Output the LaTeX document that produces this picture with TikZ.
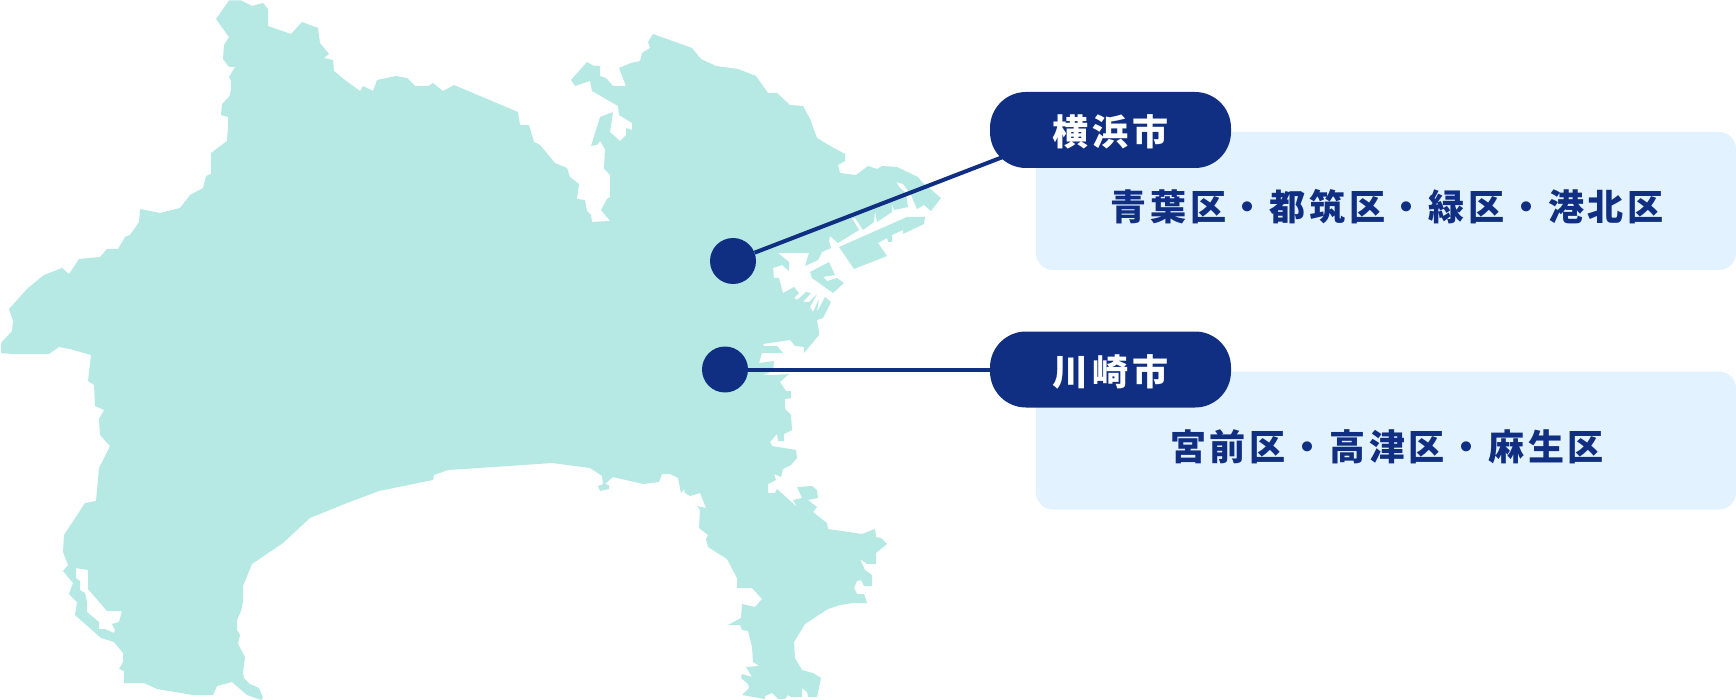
\documentclass[tikz,border=0pt]{standalone}
\usepackage{fontspec}
\newfontfamily\cjk[LetterSpace=10.5]{Noto Sans CJK JP}
\definecolor{mint}{HTML}{B6E9E3}
\definecolor{navy}{HTML}{102F82}
\definecolor{panelblue}{HTML}{E3F2FF}
\tikzset{
  panelbox/.style={fill=panelblue,rounded corners=17pt,minimum width=700pt,minimum height=138pt,inner sep=0pt,anchor=center},
  pillbox/.style={fill=navy,text=white,rounded corners=36pt,minimum width=241pt,minimum height=76pt,inner sep=0pt},
  marker/.style={circle,fill=navy,minimum size=46pt,inner sep=0pt},
  link/.style={draw=navy,line width=4pt},
  wardtext/.style={text=navy,inner sep=0pt},
  citytext/.style={text=white,inner sep=0pt}
}
\begin{document}
\begin{tikzpicture}[x=1pt,y=-1pt,font=\cjk\bfseries\fontsize{36}{42}\selectfont]
\useasboundingbox (0,0) rectangle (1736,700);
% map
\fill[mint,even odd rule]
 (229,0.5)--(241,0.5)--(252,6)--(263,3)--(268,9)--(268,26)--(291,34)--(302,22)--(318,28)--(320,43)--(329,54)--(324,58)--(333,60)--(334,71)--(345,80)--(360,91)--(363,86)--(373,91)--(377,80)--(396,76)--(407,78)--(415,86)--(428,86)--(433,83)--(443,91)--(454,85)--(518,112)
 --(520,125)--(529,125)--(534,142)--(540,145)--(555,163)--(567,168)--(570,177)--(579,184)--(577,199)--(585,200)--(587,211)--(591,215)--(592,222)--(610,221)--(601,210)--(607,199)--(610,197)--(610,175)--(604,169)--(605,149)--(600,141)--(597,145)--(591,146)--(600,117)--(613,112)--(610,132)--(620,141)--(626,135)--(626,128)--(632,130)--(632,123)--(619,115)--(618,106)--(592,91)--(590,81)--(575,86)--(571,80)--(587,62)--(594,66)--(600,66)--(600,76)--(606,78)--(613,86)--(626,86)--(619,68)--(631,63)--(640,61)--(642,53)--(650,48)--(648,42)--(653,34)
 --(692,48)--(701,59)--(716,66)--(738,69)--(756,76)--(768,93)--(777,93)--(790,105)--(803,106)--(810,119)--(817,138)--(832,147)--(845,154)--(845,161)--(838,165)--(840,173)--(856,175)--(868,166)--(877,169)--(882,166)--(897,167)--(918,177)--(922,182)--(941,198)--(931,211)--(924,205)--(917,209)--(911,195)--(903,184)--(896,182)--(900,188)--(906,193)--(908,207)--(894,210)--(892,203)--(892,212)--(877,222)--(875,211)--(874,222)--(863,230)--(855,218)--(852,218)--(859,230)--(838,243)--(830,236)--(829,241)--(831,248)--(822,252)--(818,260)--(805,266)--(809,253)--(778,253)--(789,262)--(789,271)--(782,265)--(773,268)--(774,278)--(779,278)--(783,293)--(794,287)--(799,293)--(794,298)--(797,300)--(806,292)--(811,293)--(803,302)--(809,302)--(817,294)--(810,307)--(813,312)--(819,299)--(817,312)--(825,297)--(831,302)--(823,318)--(817,320)--(819,332)
 --(819,335)--(804,353)--(804,347)--(795,346)--(790,340)--(763,344)--(764,346)--(777,346)--(783,353)--(762,353)--(759,363)--(774,361)--(773,371)--(763,375)--(775,375)--(789,374)--(780,382)--(786,391)--(791,391)--(791,398)--(785,399)--(785,409)--(791,415)--(792,430)--(784,434)--(784,441)--(778,441)--(777,434)--(770,442)--(772,446)--(796,450)--(797,458)--(791,465)--(783,469)--(781,477)--(774,474)--(776,480)--(768,484)--(768,493)--(775,493)--(777,489)--(797,507)--(793,500)--(802,498)--(797,487)--(812,486)--(817,490)--(818,498)--(808,500)--(817,507)--(813,512)--(823,520)
 --(827,523)--(828,529)--(862,534)--(875,529)--(876,537)--(881,538)--(887,544)--(876,553)--(876,564)--(867,564)--(860,559)--(865,570)--(872,575)--(872,586)--(864,586)--(861,580)--(857,581)--(854,588)--(857,594)--(864,594)--(867,603)--(853,603)--(840,605)--(828,609)--(805,624)--(794,642)--(795,658)--(802,670)--(813,673)--(821,678)--(817,697)--(808,697)--(807,692)--(802,688)--(802,697)--(791,697)--(788,695)--(785,699)--(778,699)--(772,693)--(765,696)--(765,699)--(742,695)--(749,688)--(748,684)--(741,678)--(742,674)--(752,677)--(746,667)--(759,666)--(753,662)--(752,647)--(748,631)--(742,630)--(740,625)--(728,625)--(741,618)--(742,604)--(755,607)--(762,599)--(752,588)--(737,588)--(737,578)--(727,559)--(708,547)--(706,539)--(708,535)--(699,528)--(700,510)--(697,506)--(706,508)
 --(700,493)--(690,496)--(685,493)--(684,489)--(681,493)--(678,478)--(670,474)--(662,474)--(659,482)--(643,484)--(613,477)--(605,484)--(609,485)--(609,489)--(600,491)--(598,486)--(603,484)--(602,476)--(590,468)--(552,463)--(509,466)--(448,470)--(434,475)--(433,480)--(379,491)--(347,503)--(310,518)--(283,543)--(252,564)--(243,586)--(243,602)--(241,611)--(237,620)--(237,630)--(240,635)--(238,644)--(245,657)--(243,673)--(244,678)--(250,684)--(259,688)--(263,698)--(261,700)--(247,695)--(232,682)--(217,686)--(213,695)--(193,695)--(175,692)--(157,689)--(144,683)--(124,683)--(124,671)--(119,669)--(123,662)--(123,653)--(114,642)--(101,638)--(75,615)--(77,602)--(69,594)--(73,583)--(63,571)--(68,565)--(63,552)--(64,535)--(85,503)--(96,501)--(99,468)--(110,446)--(100,435)--(99,419)--(104,410)--(95,406)--(94,385)--(88,381)--(91,355)--(70,349)--(59,347)--(49,354)--(13,354)--(1,353)--(1,343)--(12,331)--(13,321)--(9,309)--(28,288)--(44,275)--(62,268)--(69,274)--(79,259)--(100,257)--(107,249)--(118,249)--(125,237)--(130,235)--(139,222)--(140,209)--(160,213)--(180,208)--(190,195)--(203,188)--(206,176)--(211,174)--(211,153)--(227,141)--(228,127)--(228,117)--(221,115)--(222,104)--(229,97)--(231,90)--(231,81)--(229,77)--(235,67)--(229,67)--(223,59)--(224,45)--(229,37)--(216,19)--cycle
 (76,568)--(88,570)--(88,589)--(107,611)--(122,611)--(119,622)--(112,624)--(115,630)--(114,633)--(105,629)--(99,629)--(99,622)--(87,612)--(87,602)--(85,593)--(80,590)--(80,581)--(76,578)--cycle
 (907,217)--(925,217)--(924,224)--(903,234)--(903,230)--(892,235)--(892,242)--(888,242)--(887,238)--(878,243)--(887,256)--(854,269)--(839,247)--cycle
 (810,272)--(829,262)--(835,275)--(823,277)--(827,281)--(837,278)--(844,283)--(833,293)--(812,278)--cycle;
% panels
\node[panelbox] (panelA) at (1386,201) {};
\node[panelbox] (panelB) at (1386,440.5) {};
% markers and connectors
\node[marker] (dotA) at (733,261) {};
\node[marker] (dotB) at (725,369.5) {};
\coordinate (endA) at (1014,152.7);
\draw[link] (dotA) -- (endA);
\node[pillbox] (pillA) at (1110.5,130) {};
\node[pillbox] (pillB) at (1110.5,369.5) {};
\draw[link] (dotB) -- (pillB);
% labels
\node[citytext] (cityA) at (1110.5,132) {横浜市};
\node[citytext] (cityB) at (1110.5,372) {川崎市};
\node[wardtext] (wardA) at (1387,207) {青葉区・都筑区・緑区・港北区};
\node[wardtext] (wardB) at (1387,447) {宮前区・高津区・麻生区};
\end{tikzpicture}
\end{document}
